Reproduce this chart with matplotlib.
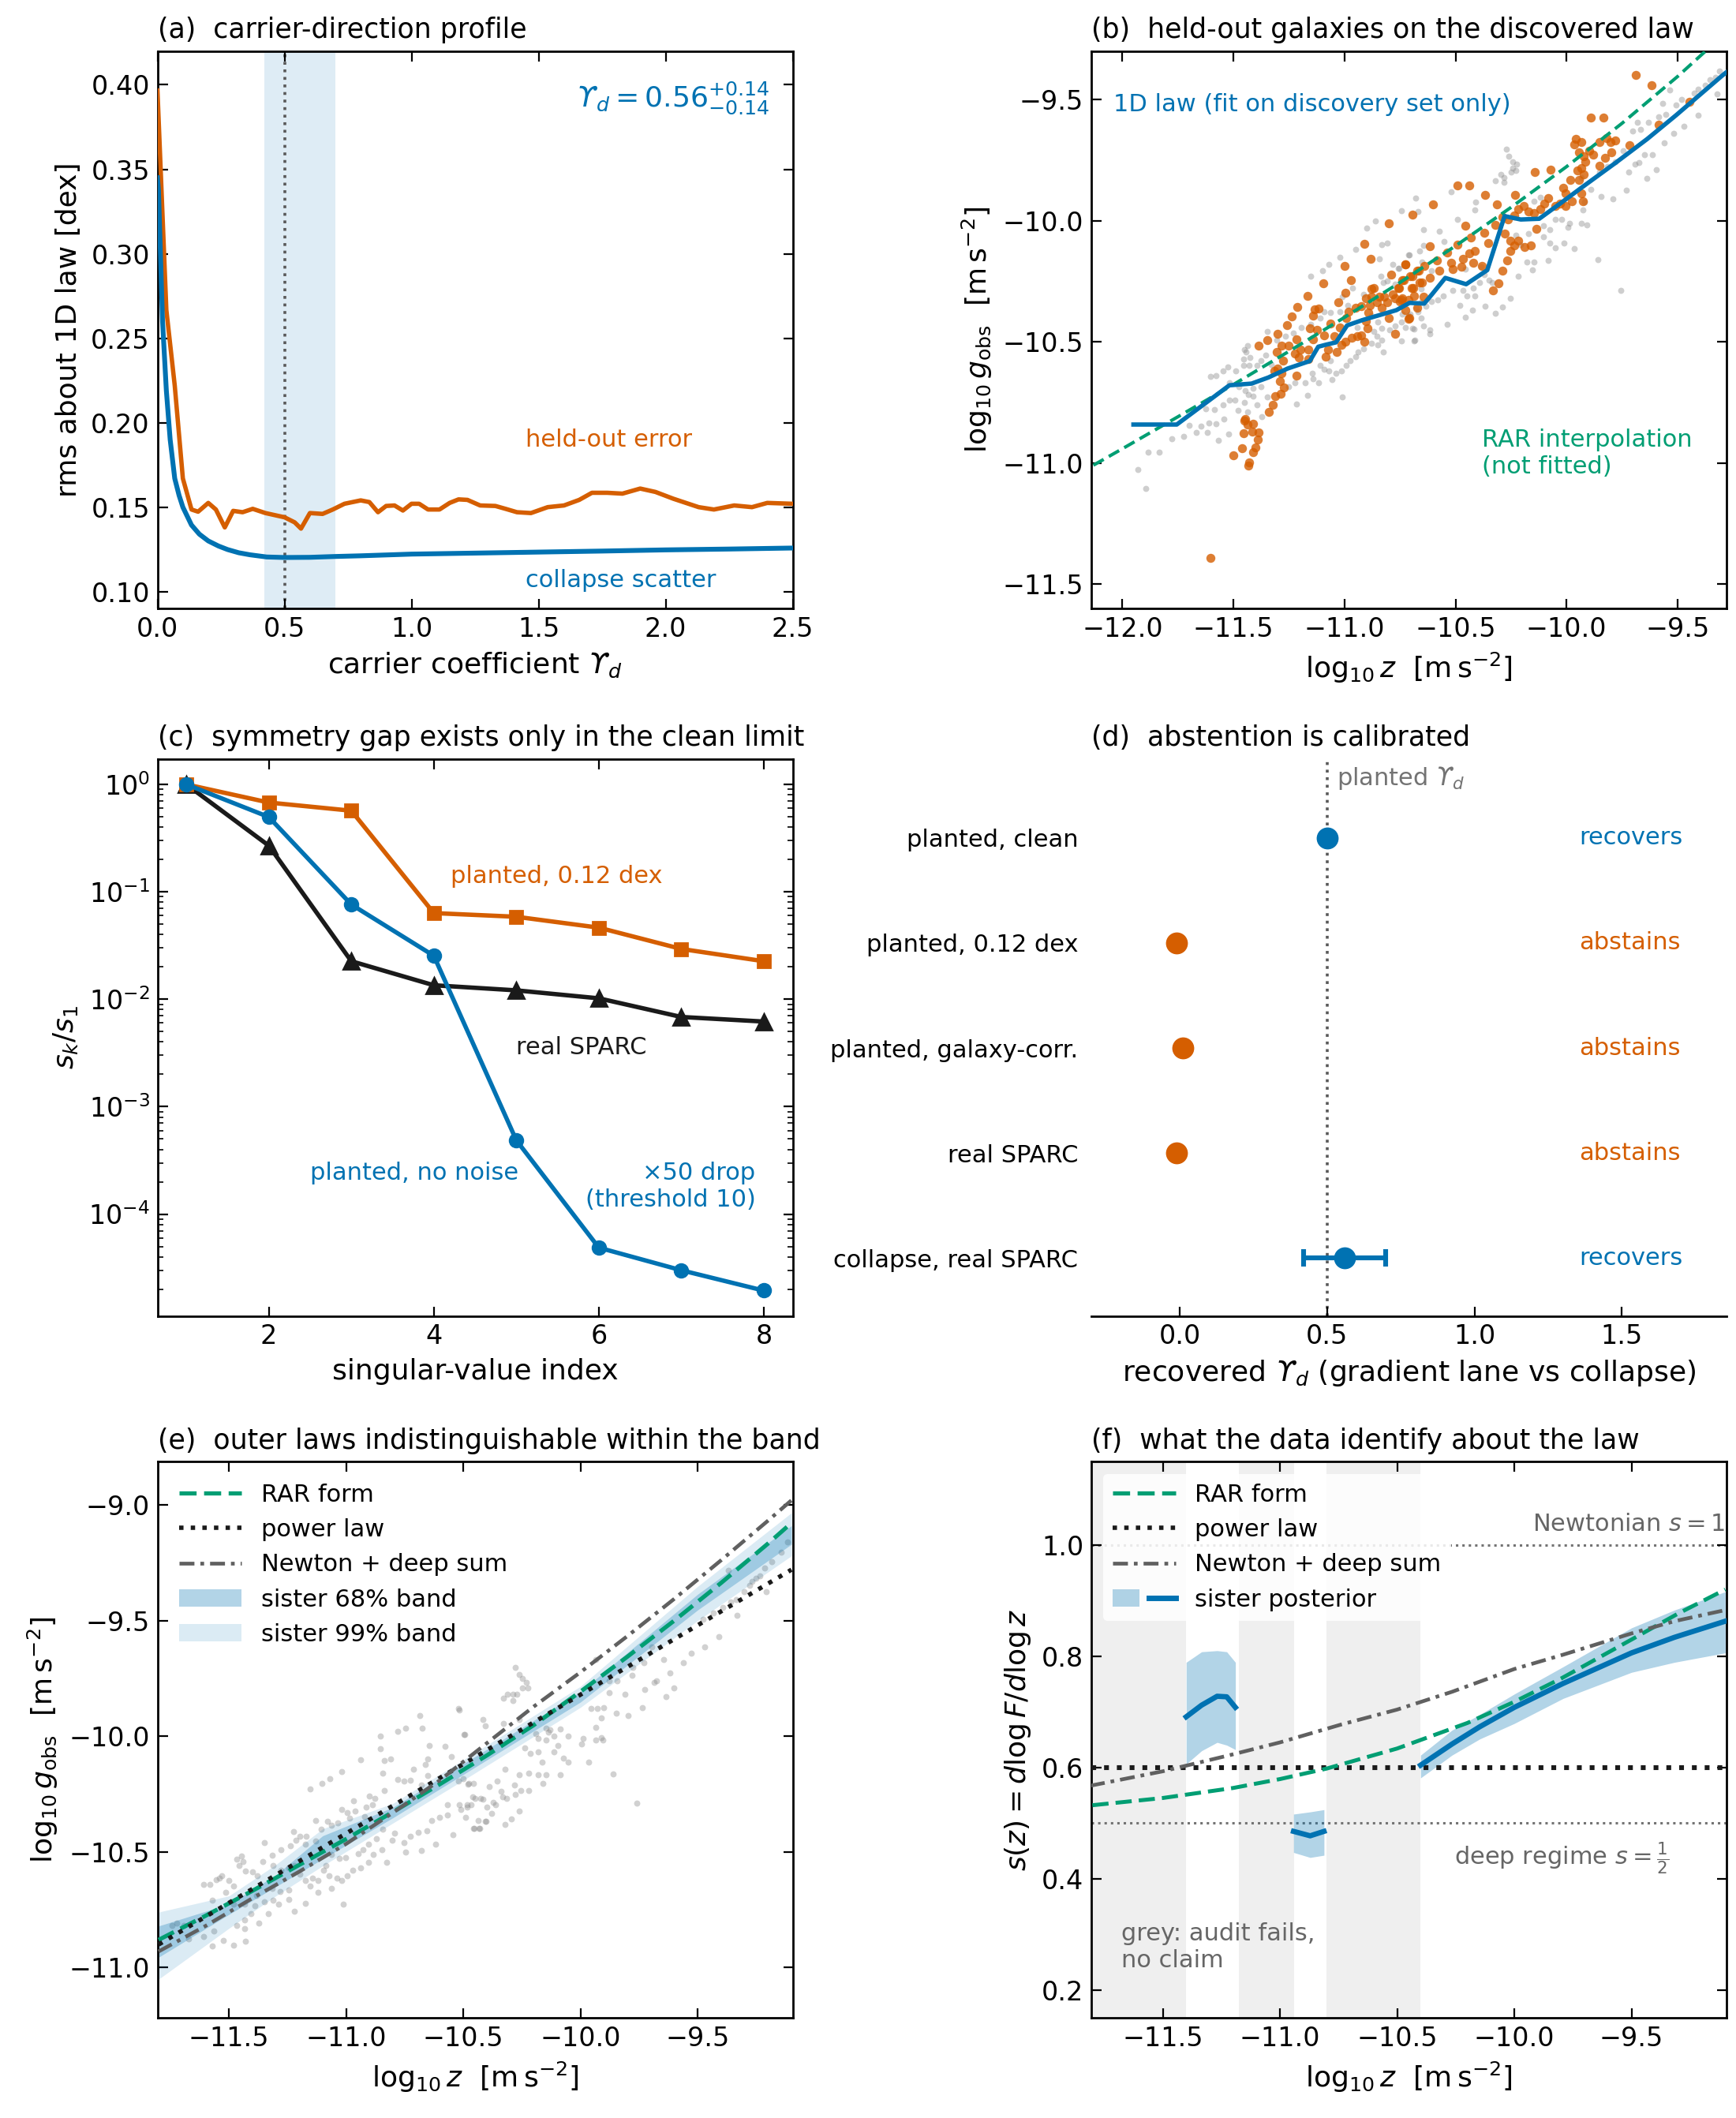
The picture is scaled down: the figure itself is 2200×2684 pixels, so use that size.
import numpy as np
import matplotlib
matplotlib.use('Agg')
import matplotlib.pyplot as plt
from matplotlib.patches import Patch
from matplotlib.lines import Line2D
from matplotlib.legend_handler import HandlerTuple

BLUE = '#0072B2'; ORANGE = '#D55E00'; GREEN = '#009E73'; DGREY = '#606060'
DASH = (0, (4.1, 1.8))
DASHDOT = (0, (4.0, 1.6, 1.0, 1.6))

# ---------------- (a) carrier-direction profile ----------------
collapse_x = [0.0, 0.004, 0.02, 0.035, 0.05, 0.068, 0.085, 0.10, 0.134, 0.165, 0.2, 0.24, 0.276, 0.32,
              0.364, 0.43, 0.5, 0.6, 0.7, 0.8, 1.0, 1.25, 1.5, 1.75, 2.0, 2.25, 2.5]
collapse_y = [0.345, 0.3375, 0.26, 0.219, 0.19, 0.167, 0.157, 0.150, 0.1394, 0.134, 0.130, 0.127, 0.1249,
              0.123, 0.1218, 0.1205, 0.1202, 0.1203, 0.1208, 0.1212, 0.1222, 0.1228, 0.1234, 0.124, 0.1247,
              0.1252, 0.1258]
held_x = [0.0, 0.035, 0.068, 0.10, 0.134, 0.16, 0.2, 0.23, 0.265, 0.298, 0.335, 0.375, 0.425, 0.5, 0.54,
          0.565, 0.6, 0.65, 0.69, 0.736, 0.80, 0.834, 0.868, 0.9, 0.933, 0.966, 1.0, 1.03, 1.065, 1.11,
          1.15, 1.185, 1.22, 1.27, 1.33, 1.37, 1.415, 1.47, 1.536, 1.60, 1.66, 1.71, 1.77, 1.83, 1.90,
          1.96, 2.03, 2.07, 2.13, 2.19, 2.27, 2.34, 2.40, 2.5]
held_y = [0.3966, 0.2667, 0.222, 0.167, 0.1486, 0.1473, 0.1525, 0.1486, 0.138, 0.1478, 0.147, 0.149,
          0.1465, 0.144, 0.141, 0.1373, 0.1465, 0.146, 0.1486, 0.152, 0.154, 0.153, 0.147, 0.1507, 0.151,
          0.148, 0.152, 0.152, 0.1486, 0.1486, 0.1525, 0.1546, 0.1543, 0.151, 0.1507, 0.149, 0.147,
          0.1465, 0.150, 0.151, 0.1543, 0.1585, 0.1585, 0.158, 0.161, 0.159, 0.155, 0.153, 0.150, 0.1486,
          0.151, 0.150, 0.1525, 0.152]
band_a = (0.42, 0.70)
planted_ud = 0.5

# ---------------- (b) held-out galaxies ----------------
law_x = [-11.95, -11.755, -11.518, -11.418, -11.343, -11.256, -11.156, -11.118, -11.081, -11.038, -10.988,
         -10.919, -10.844, -10.766, -10.707, -10.641, -10.606, -10.546, -10.452, -10.357, -10.279, -10.206,
         -10.123, -10.03, -9.933, -9.779, -9.637, -9.507, -9.30, -9.27]
law_y = [-10.841, -10.841, -10.679, -10.672, -10.647, -10.610, -10.579, -10.520, -10.511, -10.502, -10.432,
         -10.410, -10.390, -10.369, -10.339, -10.342, -10.304, -10.236, -10.262, -10.204, -9.981, -9.995,
         -9.992, -9.93, -9.864, -9.761, -9.663, -9.565, -9.402, -9.38]
rar_x = [-12.2, -12.0, -11.75, -11.5, -11.25, -11.0, -10.75, -10.5, -10.25, -10.0, -9.75, -9.5, -9.25]
rar_y = [-11.045, -10.941, -10.809, -10.676, -10.539, -10.399, -10.255, -10.104, -9.945, -9.777, -9.598,
         -9.405, -9.197]

heldout_pts = [
    (-11.605, -11.392), (-11.499, -10.967), (-11.460, -10.938), (-11.432, -11.011), (-11.430, -10.998),
    (-11.410, -10.954), (-11.400, -10.935), (-11.391, -10.904), (-11.388, -10.873), (-11.416, -10.869),
    (-11.454, -10.877), (-11.450, -10.826), (-11.436, -10.842), (-11.412, -10.837), (-11.448, -10.817),
    (-11.341, -10.788), (-11.322, -10.759), (-11.311, -10.723), (-11.288, -10.715), (-11.274, -10.687),
    (-11.291, -10.661), (-11.282, -10.630), (-11.300, -10.609), (-11.317, -10.619), (-11.276, -10.576),
    (-11.305, -10.543), (-11.282, -10.516), (-11.252, -10.516), (-11.217, -10.489), (-11.223, -10.549),
    (-11.199, -10.532), (-11.163, -10.532), (-11.205, -10.565), (-11.163, -10.570), (-11.217, -10.639),
    (-11.386, -10.514), (-11.347, -10.492), (-11.303, -10.465), (-11.258, -10.432), (-11.237, -10.394),
    (-11.213, -10.356), (-11.166, -10.310), (-11.095, -10.257), (-11.001, -10.188), (-10.970, -10.244),
    (-10.994, -10.297), (-11.029, -10.337), (-10.911, -10.094), (-10.881, -10.157),
    (-11.140, -10.391), (-11.134, -10.367), (-11.116, -10.361), (-11.157, -10.445), (-11.122, -10.451),
    (-11.140, -10.489), (-11.092, -10.473), (-11.063, -10.424), (-11.045, -10.478), (-11.021, -10.440),
    (-10.991, -10.402), (-10.980, -10.375), (-10.950, -10.358), (-10.926, -10.353), (-10.997, -10.500),
    (-10.968, -10.483), (-10.944, -10.478), (-10.926, -10.473), (-10.909, -10.500), (-10.897, -10.445),
    (-10.903, -10.413), (-10.891, -10.380), (-10.885, -10.348), (-10.879, -10.315), (-10.867, -10.277),
    (-10.855, -10.337), (-10.832, -10.358), (-10.820, -10.315), (-10.802, -10.402), (-10.772, -10.467),
    (-10.784, -10.304), (-10.755, -10.277), (-10.790, -10.223), (-10.725, -10.179), (-10.731, -10.244),
    (-10.695, -10.228), (-10.689, -10.277), (-10.666, -10.206), (-10.660, -10.255), (-10.713, -10.326),
    (-10.707, -10.402), (-11.074, -10.532), (-11.086, -10.560), (-11.033, -10.543), (-11.015, -10.511),
    (-10.903, -10.320), (-10.879, -10.282), (-10.843, -10.315), (-10.808, -10.337), (-10.772, -10.320),
    (-10.743, -10.326),
    (-9.687, -9.400), (-9.616, -9.442), (-9.890, -9.575), (-9.835, -9.574), (-9.957, -9.663), (-9.933, -9.674),
    (-9.967, -9.685), (-9.945, -9.717), (-9.922, -9.734), (-9.898, -9.712), (-9.880, -9.728), (-9.916, -9.756),
    (-9.933, -9.783), (-9.951, -9.794), (-9.922, -9.810), (-9.945, -9.832), (-9.983, -9.832), (-10.016, -9.864),
    (-10.005, -9.886), (-9.975, -9.919), (-9.933, -9.886), (-9.928, -9.919), (-9.851, -9.674), (-9.821, -9.658),
    (-9.803, -9.674), (-9.780, -9.669), (-9.827, -9.739), (-9.851, -9.772), (-9.797, -9.717), (-9.718, -9.690),
    (-9.584, -9.603), (-9.448, -9.511),
    (-10.144, -9.799), (-10.072, -9.790), (-10.232, -9.895), (-10.315, -9.932), (-10.368, -9.895),
    (-10.437, -9.853), (-10.490, -9.853), (-10.603, -9.932), (-10.695, -9.975), (-10.457, -10.022),
    (-10.431, -10.071), (-10.490, -10.098), (-10.615, -10.106), (-10.538, -10.131), (-10.585, -10.163),
    (-10.639, -10.185), (-10.674, -10.207), (-10.727, -10.179), (-10.704, -10.228), (-10.739, -10.245),
    (-10.757, -10.277), (-10.739, -10.321), (-10.698, -10.277), (-10.650, -10.256), (-10.615, -10.234),
    (-10.573, -10.207), (-10.520, -10.174), (-10.514, -10.201), (-10.467, -10.158), (-10.473, -10.190),
    (-10.437, -10.136), (-10.413, -10.125), (-10.419, -10.174), (-10.381, -10.185), (-10.372, -10.049),
    (-10.354, -10.093), (-10.322, -10.016), (-10.289, -9.984), (-10.265, -9.995), (-10.236, -9.978),
    (-10.218, -9.951), (-10.194, -9.940), (-10.170, -9.962), (-10.147, -9.967), (-10.117, -9.951),
    (-10.099, -9.929), (-10.082, -9.908), (-10.052, -9.940), (-10.028, -9.929), (-10.005, -9.940),
    (-10.277, -10.054), (-10.253, -10.082), (-10.236, -10.103), (-10.218, -10.082), (-10.253, -10.125),
    (-10.268, -10.163), (-10.289, -10.207), (-10.307, -10.258), (-10.330, -10.288), (-10.188, -10.109),
    (-10.159, -10.101), (-10.135, -10.033), (-10.645, -10.315), (-10.674, -10.359), (-10.710, -10.406),
    (-10.751, -10.332), (-10.727, -10.370), (-10.686, -10.310), (-10.80, -10.01),
]

discovery_pts = [
    (-11.931, -11.025), (-11.896, -11.106), (-11.885, -10.956), (-11.833, -10.956), (-11.777, -10.900),
    (-11.723, -10.889), (-11.700, -10.845), (-11.667, -10.875), (-11.646, -10.848), (-11.618, -10.875),
    (-11.611, -10.835), (-11.578, -10.837), (-11.566, -10.905), (-11.521, -10.880), (-11.543, -10.817),
    (-11.586, -10.779), (-11.625, -10.777), (-11.548, -10.761), (-11.519, -10.739), (-11.493, -10.739),
    (-11.480, -10.782), (-11.436, -10.788), (-11.450, -10.750), (-11.433, -10.717), (-11.412, -10.723),
    (-11.394, -10.761), (-11.373, -10.810), (-11.347, -10.726), (-11.377, -10.685), (-11.412, -10.690),
    (-11.448, -10.701), (-11.477, -10.685), (-11.519, -10.668), (-11.604, -10.641), (-11.578, -10.639),
    (-11.548, -10.619), (-11.525, -10.603), (-11.489, -10.619), (-11.454, -10.598), (-11.454, -10.570),
    (-11.430, -10.598), (-11.394, -10.598), (-11.450, -10.532), (-11.436, -10.516), (-11.442, -10.543),
    (-11.424, -10.565), (-11.377, -10.576), (-11.353, -10.554), (-11.329, -10.592), (-11.347, -10.456),
    (-11.306, -10.494), (-11.264, -10.478), (-11.229, -10.462), (-11.193, -10.440), (-11.151, -10.429),
    (-11.223, -10.668), (-11.252, -10.685), (-11.217, -10.755), (-11.166, -10.720), (-11.178, -10.668),
    (-11.140, -10.652), (-11.116, -10.668), (-11.146, -10.630), (-11.092, -10.614), (-11.110, -10.598),
    (-11.063, -10.576), (-11.069, -10.619), (-11.057, -10.657), (-11.039, -10.630), (-11.015, -10.619),
    (-10.991, -10.598), (-10.974, -10.576), (-10.950, -10.560), (-10.938, -10.543), (-10.915, -10.527),
    (-10.879, -10.505), (-10.849, -10.511), (-10.826, -10.543), (-10.832, -10.494), (-10.855, -10.478),
    (-10.867, -10.456), (-10.832, -10.445), (-10.796, -10.451), (-10.772, -10.435), (-10.743, -10.418),
    (-10.713, -10.391), (-10.695, -10.445), (-10.683, -10.494), (-10.654, -10.402), (-10.677, -10.358),
    (-10.654, -10.337), (-10.654, -10.282), (-11.009, -10.726), (-11.151, -10.228), (-11.098, -10.206),
    (-11.069, -10.179), (-11.021, -10.150), (-10.950, -10.119), (-10.832, -10.100), (-10.806, -10.092),
    (-10.843, -10.157), (-10.784, -10.179), (-10.755, -10.195), (-10.707, -10.141), (-10.837, -10.228),
    (-10.826, -10.255), (-10.915, -10.304), (-10.962, -10.277), (-11.021, -10.375), (-11.092, -10.375),
    (-11.110, -10.402), (-11.063, -10.380), (-11.009, -10.315), (-10.986, -10.348), (-10.879, -10.391),
    (-10.849, -10.418), (-10.944, -10.440), (-10.808, -10.250), (-10.772, -10.261),
    (-9.311, -9.381), (-9.329, -9.408), (-9.353, -9.419), (-9.377, -9.440), (-9.406, -9.457), (-9.424, -9.473),
    (-9.483, -9.500), (-9.507, -9.522), (-9.537, -9.462), (-9.566, -9.516), (-9.584, -9.571), (-9.554, -9.560),
    (-9.631, -9.593), (-9.667, -9.623), (-9.702, -9.631), (-9.682, -9.593), (-9.471, -9.609), (-9.519, -9.641),
    (-9.560, -9.679), (-9.614, -9.726), (-9.406, -9.565), (-9.323, -9.478), (-9.596, -9.788), (-9.637, -9.826),
    (-9.673, -9.761), (-9.720, -9.799), (-9.732, -9.873), (-9.791, -9.910), (-9.845, -9.899), (-9.892, -9.870),
    (-9.928, -9.957), (-9.910, -10.016), (-9.933, -10.011), (-9.967, -10.114), (-9.987, -10.011),
    (-10.011, -10.093), (-10.052, -10.112), (-10.082, -10.163), (-10.076, -10.093), (-10.105, -10.065),
    (-10.147, -10.169), (-10.179, -10.169), (-10.153, -10.204), (-10.218, -10.228), (-10.253, -10.321),
    (-10.289, -10.356), (-10.319, -10.381), (-9.756, -10.286), (-9.857, -10.161), (-10.271, -9.704),
    (-10.259, -9.734), (-10.242, -9.756), (-10.224, -9.766), (-10.230, -9.794), (-10.248, -9.799),
    (-10.242, -9.783), (-10.280, -9.821), (-10.295, -9.810), (-10.322, -9.834), (-10.283, -9.840),
    (-10.408, -9.924), (-10.413, -9.957), (-10.520, -9.881), (-10.680, -9.908), (-10.745, -9.960),
    (-10.668, -9.962), (-10.490, -9.995), (-10.573, -10.044), (-10.645, -10.038), (-10.550, -10.087),
    (-10.645, -10.103), (-10.710, -10.141), (-10.662, -10.125), (-10.757, -10.196), (-10.650, -10.169),
    (-10.609, -10.207), (-10.455, -10.201), (-10.386, -10.190), (-10.372, -10.223), (-10.348, -10.245),
    (-10.336, -10.256), (-10.390, -10.256), (-10.419, -10.277), (-10.467, -10.288), (-10.514, -10.288),
    (-10.556, -10.310), (-10.579, -10.326), (-10.609, -10.332), (-10.633, -10.353), (-10.668, -10.375),
    (-10.704, -10.386), (-10.739, -10.386), (-10.727, -10.440), (-10.686, -10.446), (-10.645, -10.435),
    (-10.615, -10.451), (-10.615, -10.468), (-10.745, -10.495), (-10.686, -10.495), (-10.538, -10.429),
    (-10.455, -10.397), (-10.425, -10.370), (-10.366, -10.353), (-10.413, -10.310), (-10.479, -10.348),
    (-10.449, -10.310), (-10.230, -10.060), (-10.206, -10.098), (-10.171, -10.054), (-10.105, -10.022),
    (-10.076, -10.038), (-10.052, -9.995), (-10.022, -9.995), (-9.993, -10.027), (-9.919, -9.924),
    (-10.117, -9.902), (-10.147, -9.919), (-9.933, -9.821), (-9.851, -9.799), (-9.815, -9.777),
    (-9.780, -9.756), (-9.744, -9.712), (-9.691, -9.766), (-9.649, -9.728), (-10.86, -10.0), (-10.90, -10.03),
]

# ---------------- (c) singular values ----------------
sv_index = [1, 2, 3, 4, 5, 6, 7, 8]
sv_planted_noisy = [1.0, 0.678, 0.569, 0.0634, 0.0586, 0.0464, 0.0294, 0.0226]
sv_planted_clean = [1.0, 0.497, 0.0762, 0.0254, 4.87e-4, 4.87e-5, 3.0e-5, 1.94e-5]
sv_real_sparc = [1.0, 0.269, 0.0226, 0.0135, 0.0121, 0.0102, 0.00684, 0.0062]

# ---------------- (d) abstention ----------------
abst_labels = ['planted, clean', 'planted, 0.12 dex', 'planted, galaxy-corr.', 'real SPARC',
               'collapse, real SPARC']
abst_values = [0.50, -0.01, 0.01, -0.01, 0.56]
abst_err_lo = [0.0, 0.0, 0.0, 0.0, 0.14]
abst_err_hi = [0.0, 0.0, 0.0, 0.0, 0.14]
abst_verdict = ['recovers', 'abstains', 'abstains', 'abstains', 'recovers']

# ---------------- (e) outer laws ----------------
rarform_x = [-11.8, -11.6, -11.4, -11.2, -11.0, -10.8, -10.6, -10.4, -10.2, -10.0, -9.8, -9.6, -9.4, -9.2, -9.1]
rarform_y = [-10.88, -10.776, -10.668, -10.556, -10.444, -10.327, -10.207, -10.083, -9.952, -9.807, -9.656,
             -9.50, -9.337, -9.167, -9.078]
power_x = [-11.8, -9.1]
power_y = [-10.90, -9.28]
newton_x = [-11.8, -11.6, -11.4, -11.2, -11.0, -10.8, -10.6, -10.4, -10.2, -10.0, -9.8, -9.6, -9.4, -9.2, -9.1]
newton_y = [-10.93, -10.82, -10.70, -10.585, -10.465, -10.33, -10.19, -10.03, -9.872, -9.723, -9.567, -9.406,
            -9.239, -9.068, -8.98]
sister_x = [-11.8, -11.5, -11.3, -11.1, -10.8, -10.5, -10.0, -9.5, -9.1]
sister_lo99 = [-11.05, -10.83, -10.69, -10.56, -10.375, -10.19, -9.875, -9.50, -9.22]
sister_lo68 = [-10.955, -10.77, -10.65, -10.53, -10.352, -10.165, -9.852, -9.454, -9.17]
sister_hi68 = [-10.82, -10.725, -10.60, -10.43, -10.307, -10.119, -9.807, -9.386, -9.09]
sister_hi99 = [-10.76, -10.69, -10.555, -10.40, -10.29, -10.102, -9.784, -9.352, -9.034]

all_pts = [
    (-10.522, -9.881), (-10.686, -9.909), (-10.748, -9.964), (-10.781, -9.980), (-10.674, -9.964),
    (-10.855, -10.000), (-10.494, -9.994), (-10.855, -10.054), (-10.646, -10.041), (-10.579, -10.045),
    (-10.939, -10.100), (-10.838, -10.105), (-10.809, -10.098), (-10.652, -10.097), (-10.551, -10.089),
    (-10.663, -10.123), (-10.714, -10.142), (-10.843, -10.161), (-11.018, -10.151), (-11.068, -10.182),
    (-11.102, -10.205), (-11.153, -10.227), (-10.781, -10.187), (-10.753, -10.195), (-10.725, -10.191),
    (-10.652, -10.168), (-10.522, -10.193), (-10.500, -10.184), (-10.477, -10.205), (-10.680, -10.210),
    (-10.838, -10.233), (-10.900, -10.259), (-10.877, -10.267), (-10.967, -10.278), (-10.888, -10.295),
    (-10.916, -10.305), (-11.018, -10.316), (-10.995, -10.330), (-10.961, -10.324), (-10.922, -10.347),
    (-10.984, -10.355), (-11.130, -10.364), (-11.080, -10.369), (-11.035, -10.373), (-11.063, -10.386),
    (-11.108, -10.403), (-11.226, -10.411), (-11.198, -10.432), (-11.170, -10.432), (-11.215, -10.449),
    (-11.130, -10.452), (-11.175, -10.466), (-11.237, -10.472), (-11.277, -10.489), (-11.316, -10.514),
    (-11.350, -10.460), (-11.446, -10.517), (-11.440, -10.540), (-11.457, -10.557), (-11.468, -10.532),
    (-11.429, -10.582), (-11.401, -10.585), (-11.378, -10.602), (-11.356, -10.540), (-11.311, -10.557),
    (-11.277, -10.580), (-11.243, -10.568), (-11.221, -10.557), (-11.198, -10.597), (-11.175, -10.625),
    (-11.142, -10.614), (-11.119, -10.625), (-11.097, -10.580), (-11.074, -10.602), (-11.040, -10.614),
    (-11.018, -10.625), (-10.995, -10.602), (-10.973, -10.580), (-10.939, -10.568), (-10.905, -10.545),
    (-10.883, -10.511), (-10.849, -10.489), (-10.826, -10.545), (-10.804, -10.449), (-10.793, -10.420),
    (-10.753, -10.460), (-10.748, -10.500), (-10.725, -10.432), (-10.691, -10.415), (-10.680, -10.494),
    (-10.657, -10.409), (-10.635, -10.364), (-10.618, -10.466), (-10.601, -10.352), (-10.567, -10.341),
    (-10.545, -10.426), (-10.511, -10.318), (-10.489, -10.352), (-10.455, -10.398), (-10.432, -10.398),
    (-10.404, -10.369), (-10.460, -10.261), (-10.427, -10.267), (-10.399, -10.307), (-10.567, -10.295),
    (-10.483, -10.295), (-10.843, -10.403), (-10.871, -10.443), (-10.905, -10.466), (-10.928, -10.489),
    (-10.950, -10.506), (-11.001, -10.523), (-11.029, -10.528), (-11.063, -10.511), (-11.085, -10.557),
    (-11.175, -10.722), (-11.221, -10.756), (-11.012, -10.727), (-11.153, -10.648), (-11.119, -10.676),
    (-11.063, -10.659), (-11.530, -10.602), (-11.541, -10.614), (-11.553, -10.619), (-11.609, -10.642),
    (-11.581, -10.642), (-11.502, -10.625), (-11.479, -10.648), (-11.570, -10.710), (-11.513, -10.676),
    (-11.434, -10.727), (-11.389, -10.733), (-11.406, -10.767), (-11.434, -10.795), (-11.372, -10.807),
    (-11.434, -10.830), (-11.468, -10.818), (-11.564, -10.841), (-11.609, -10.864), (-11.671, -10.875),
    (-11.693, -10.818), (-11.722, -10.807), (-11.744, -10.818), (-11.570, -10.907), (-11.525, -10.884),
    (-11.479, -10.903), (-11.429, -10.886), (-11.479, -10.727), (-11.333, -10.767), (-11.288, -10.727),
    (-11.311, -10.710), (-11.243, -10.705), (-11.282, -10.670), (-11.243, -10.665), (-11.316, -10.659),
    (-11.350, -10.716), (-11.384, -10.688),
    (-10.277, -9.704), (-10.262, -9.733), (-10.249, -9.750), (-10.232, -9.767), (-10.224, -9.790),
    (-10.249, -9.790), (-10.311, -9.818), (-10.288, -9.818), (-10.271, -9.818), (-10.328, -9.835),
    (-10.288, -9.846), (-10.418, -9.926), (-10.406, -9.954), (-10.328, -9.943), (-10.260, -9.926),
    (-10.496, -9.994), (-10.519, -9.886), (-10.147, -9.966), (-10.136, -9.983), (-10.131, -9.971),
    (-10.192, -9.988), (-10.181, -10.011), (-10.147, -10.017), (-10.114, -10.000), (-10.085, -9.968),
    (-10.052, -10.000), (-9.995, -10.032), (-9.990, -10.011), (-9.934, -10.017), (-9.911, -10.005),
    (-9.905, -10.017), (-9.934, -9.960), (-9.911, -9.922), (-9.956, -9.880), (-9.928, -9.880),
    (-9.900, -9.875), (-9.877, -9.812), (-9.849, -9.900), (-9.810, -9.818), (-9.798, -9.911),
    (-9.781, -9.738), (-9.736, -9.875), (-9.725, -9.797), (-9.686, -9.767), (-9.675, -9.761),
    (-9.635, -9.829), (-9.601, -9.790), (-9.618, -9.727), (-9.646, -9.670), (-9.562, -9.682),
    (-9.528, -9.642), (-9.472, -9.613), (-9.410, -9.568), (-9.331, -9.477), (-9.370, -9.284),
    (-9.280, -9.346), (-9.252, -9.318), (-9.235, -9.307), (-9.213, -9.272), (-9.185, -9.244),
    (-9.145, -9.204), (-9.117, -9.159), (-9.207, -9.375), (-9.269, -9.329), (-9.303, -9.375),
    (-9.337, -9.409), (-9.359, -9.420), (-9.393, -9.443), (-9.432, -9.466), (-9.477, -9.494),
    (-9.934, -9.670), (-9.877, -9.761), (-9.843, -9.761), (-9.776, -9.704), (-9.731, -9.682),
    (-9.697, -9.613), (-10.238, -10.051), (-10.215, -10.074), (-10.181, -10.068), (-10.164, -10.113),
    (-10.114, -10.068), (-10.097, -10.040), (-10.074, -10.096), (-10.052, -10.113), (-9.967, -10.113),
    (-10.085, -10.165), (-10.147, -10.165), (-10.181, -10.165), (-10.221, -10.159), (-10.260, -10.165),
    (-10.322, -10.142), (-10.356, -10.193), (-10.390, -10.216), (-10.457, -10.204), (-10.480, -10.207),
    (-10.283, -10.210), (-10.339, -10.238), (-10.333, -10.261), (-10.316, -10.267), (-10.277, -10.250),
    (-10.254, -10.233), (-10.221, -10.233), (-10.373, -10.284), (-10.361, -10.295), (-10.418, -10.273),
    (-10.451, -10.267), (-10.468, -10.295), (-10.485, -10.307), (-10.519, -10.295), (-10.378, -10.335),
    (-10.435, -10.363), (-10.406, -10.369), (-10.260, -10.324), (-10.294, -10.358), (-10.322, -10.380),
    (-10.457, -10.398), (-10.429, -10.398), (-9.860, -10.162), (-9.759, -10.290), (-10.159, -10.204),
]

# ---------------- (f) local slope ----------------
audit_fail = [(-11.85, -11.40), (-11.175, -10.94), (-10.80, -10.40)]
slope_rar_x = [-11.8, -11.5, -11.2, -11.0, -10.8, -10.5, -10.2, -10.0, -9.8, -9.5, -9.3, -9.1]
slope_rar_y = [0.532, 0.545, 0.563, 0.579, 0.598, 0.634, 0.680, 0.718, 0.760, 0.830, 0.877, 0.920]
slope_power = 0.6
slope_newton_x = [-11.81, -11.5, -11.215, -11.0, -10.74, -10.5, -10.266, -10.0, -9.79, -9.5, -9.317, -9.10]
slope_newton_y = [0.567, 0.593, 0.622, 0.645, 0.677, 0.704, 0.736, 0.777, 0.803, 0.841, 0.863, 0.883]
seg1_x = [-11.40, -11.334, -11.268, -11.227, -11.19]
seg1_mid = [0.691, 0.712, 0.728, 0.727, 0.708]
seg1_lo = [0.606, 0.630, 0.645, 0.640, 0.632]
seg1_hi = [0.789, 0.808, 0.810, 0.808, 0.789]
seg2_x = [-10.942, -10.871, -10.812]
seg2_mid = [0.485, 0.477, 0.485]
seg2_lo = [0.447, 0.438, 0.442]
seg2_hi = [0.516, 0.520, 0.524]
seg3_x = [-10.40, -10.266, -10.148, -10.0, -9.792, -9.5, -9.317, -9.10]
seg3_mid = [0.604, 0.642, 0.673, 0.708, 0.751, 0.806, 0.834, 0.863]
seg3_lo = [0.581, 0.622, 0.651, 0.679, 0.724, 0.771, 0.789, 0.806]
seg3_hi = [0.622, 0.667, 0.695, 0.732, 0.781, 0.851, 0.883, 0.916]

# ================= figure =================
plt.rcParams.update({
    'font.family': ['DejaVu Sans'], 'mathtext.fontset': 'dejavusans',
    'font.size': 12, 'axes.titlesize': 12.5, 'axes.labelsize': 13,
    'xtick.labelsize': 12, 'ytick.labelsize': 12, 'legend.fontsize': 11,
    'xtick.direction': 'in', 'ytick.direction': 'in', 'xtick.top': True, 'ytick.right': True,
    'xtick.major.size': 4.5, 'ytick.major.size': 4.5, 'xtick.minor.size': 2.5, 'ytick.minor.size': 2.5,
    'axes.linewidth': 1.0,
})
UPS = '\u03d2'

fig = plt.figure(figsize=(11, 13.42), dpi=200)
LX, RX, W = 0.0907, 0.6286, 0.3659
rows = [(0.7127, 0.2632), (0.3787, 0.2629), (0.0474, 0.2625)]
axA = fig.add_axes([LX, rows[0][0], W, rows[0][1]])
axB = fig.add_axes([RX, rows[0][0], W, rows[0][1]])
axC = fig.add_axes([LX, rows[1][0], W, rows[1][1]])
axD = fig.add_axes([RX, rows[1][0], W, rows[1][1]])
axE = fig.add_axes([LX, rows[2][0], W, rows[2][1]])
axF = fig.add_axes([RX, rows[2][0], W, rows[2][1]])

# (a)
axA.axvspan(*band_a, color=BLUE, alpha=0.13, lw=0, zorder=0)
axA.axvline(planted_ud, color='0.35', ls=':', lw=1.3, zorder=1)
axA.plot(held_x, held_y, color=ORANGE, lw=2.0, zorder=3)
axA.plot(collapse_x, collapse_y, color=BLUE, lw=2.2, zorder=3)
axA.set_xlim(0, 2.5); axA.set_ylim(0.09, 0.42)
axA.set_xticks([0, 0.5, 1.0, 1.5, 2.0, 2.5])
axA.text(1.45, 0.19, 'held-out error', color=ORANGE, fontsize=11, va='center')
axA.text(1.45, 0.1066, 'collapse scatter', color=BLUE, fontsize=11, va='center')
axA.text(2.41, 0.392, r'$%s_d = 0.56^{+0.14}_{-0.14}$' % UPS, color=BLUE, fontsize=13,
         ha='right', va='center')
axA.set_xlabel(r'carrier coefficient $%s_d$' % UPS)
axA.set_ylabel('rms about 1D law [dex]')
axA.set_title('(a)  carrier-direction profile', loc='left')

# (b)
dx, dy = zip(*discovery_pts)
hx, hy = zip(*heldout_pts)
axB.scatter(dx, dy, s=8, color='0.55', alpha=0.42, lw=0, zorder=1)
axB.scatter(hx, hy, s=17, color=ORANGE, alpha=0.8, lw=0, zorder=2)
axB.plot(rar_x, rar_y, color=GREEN, ls=(0, (3.6, 1.8)), lw=1.5, zorder=3)
axB.plot(law_x, law_y, color=BLUE, lw=2.0, zorder=4)
axB.set_xlim(-12.14, -9.28); axB.set_ylim(-11.6, -9.3)
axB.set_xticks([-12.0, -11.5, -11.0, -10.5, -10.0, -9.5])
axB.set_yticks([-11.5, -11.0, -10.5, -10.0, -9.5])
axB.text(-12.04, -9.52, '1D law (fit on discovery set only)', color=BLUE, fontsize=11, va='center')
axB.text(-10.38, -10.96, 'RAR interpolation\n(not fitted)', color=GREEN, fontsize=11, va='center')
axB.set_xlabel(r'$\log_{10} z\ \ [\mathrm{m\,s^{-2}}]$')
axB.set_ylabel(r'$\log_{10} g_{\mathrm{obs}}\ \ [\mathrm{m\,s^{-2}}]$')
axB.set_title('(b)  held-out galaxies on the discovered law', loc='left')

# (c)
axC.semilogy(sv_index, sv_real_sparc, color='#1a1a1a', marker='^', ms=7, lw=2.0, zorder=3)
axC.semilogy(sv_index, sv_planted_noisy, color=ORANGE, marker='s', ms=6, lw=2.0, zorder=3)
axC.semilogy(sv_index, sv_planted_clean, color=BLUE, marker='o', ms=6, lw=2.0, zorder=4)
axC.set_xticks([2, 4, 6, 8])
axC.tick_params(which='both', direction='in', top=True, right=True)
axC.text(4.2, 0.14, 'planted, 0.12 dex', color=ORANGE, fontsize=11, va='center')
axC.text(5.0, 0.00357, 'real SPARC', color='#1a1a1a', fontsize=11, va='center')
axC.text(2.5, 2.4e-4, 'planted, no noise', color=BLUE, fontsize=11, va='center')
axC.text(7.9, 1.8e-4, '\u00d750 drop\n(threshold 10)', color=BLUE, fontsize=11, va='center',
         ha='right', multialignment='right')
axC.set_xlabel('singular-value index')
axC.set_ylabel(r'$s_k/s_1$')
axC.set_title('(c)  symmetry gap exists only in the clean limit', loc='left')

# (d)
ypos = np.arange(len(abst_labels))
for i in range(len(abst_labels)):
    col = BLUE if abst_verdict[i] == 'recovers' else ORANGE
    if abst_err_hi[i] > 0:
        axD.errorbar(abst_values[i], ypos[i], xerr=[[abst_err_lo[i]], [abst_err_hi[i]]], fmt='o',
                     color=col, ms=9, elinewidth=2.2, capsize=4, capthick=2.2, zorder=3)
    else:
        axD.plot(abst_values[i], ypos[i], 'o', color=col, ms=9, zorder=3)
    axD.text(1.355, ypos[i], abst_verdict[i], color=col, fontsize=11, va='center', ha='left')
axD.axvline(planted_ud, color='0.35', ls=':', lw=1.3, zorder=1)
axD.text(0.534, -0.573, r'planted $%s_d$' % UPS, color='0.45', fontsize=11, va='center')
axD.set_ylim(4.55, -0.75); axD.set_xlim(-0.3, 1.855)
axD.set_yticks(ypos); axD.set_yticklabels(abst_labels, fontsize=11)
axD.set_xticks([0.0, 0.5, 1.0, 1.5])
for s in ['left', 'top', 'right']:
    axD.spines[s].set_visible(False)
axD.tick_params(axis='y', length=0, pad=6, left=False, right=False)
axD.tick_params(axis='x', top=False, direction='in')
axD.set_xlabel(r'recovered $%s_d$ (gradient lane vs collapse)' % UPS)
axD.set_title('(d)  abstention is calibrated', loc='left')

# (e)
ex, ey = zip(*all_pts)
axE.scatter(ex, ey, s=8, color='0.55', alpha=0.4, lw=0, zorder=1)
axE.fill_between(sister_x, sister_lo99, sister_hi99, color=BLUE, alpha=0.14, lw=0, zorder=2)
axE.fill_between(sister_x, sister_lo68, sister_hi68, color=BLUE, alpha=0.27, lw=0, zorder=2)
axE.plot(rarform_x, rarform_y, color=GREEN, ls=DASH, lw=1.9, zorder=4)
axE.plot(power_x, power_y, color='#1a1a1a', ls=':', lw=2.0, zorder=4)
axE.plot(newton_x, newton_y, color=DGREY, ls=DASHDOT, lw=1.7, zorder=4)
axE.set_xlim(-11.805, -9.095); axE.set_ylim(-11.216, -8.813)
axE.set_xticks([-11.5, -11.0, -10.5, -10.0, -9.5])
axE.set_yticks([-11.0, -10.5, -10.0, -9.5, -9.0])
hE = [Line2D([], [], color=GREEN, ls=DASH, lw=1.9),
      Line2D([], [], color='#1a1a1a', ls=':', lw=2.0),
      Line2D([], [], color=DGREY, ls=DASHDOT, lw=1.7),
      Patch(facecolor=BLUE, alpha=0.3, lw=0),
      Patch(facecolor=BLUE, alpha=0.14, lw=0)]
axE.legend(hE, ['RAR form', 'power law', 'Newton + deep sum', 'sister 68% band', 'sister 99% band'],
           loc='upper left', handlelength=2.6, labelspacing=0.5, frameon=True, facecolor='white',
           edgecolor='none', framealpha=0.85)
axE.set_xlabel(r'$\log_{10} z\ \ [\mathrm{m\,s^{-2}}]$')
axE.set_ylabel(r'$\log_{10} g_{\mathrm{obs}}\ \ [\mathrm{m\,s^{-2}}]$')
axE.set_title('(e)  outer laws indistinguishable within the band', loc='left')

# (f)
for a, b in audit_fail:
    axF.axvspan(a, b, color='#efefef', lw=0, zorder=0)
axF.axhline(1.0, color='0.45', ls=':', lw=1.1, zorder=1)
axF.axhline(0.5, color='0.45', ls=':', lw=1.1, zorder=1)
axF.axhline(slope_power, color='#1a1a1a', ls=':', lw=2.2, zorder=3)
axF.plot(slope_rar_x, slope_rar_y, color=GREEN, ls=DASH, lw=1.8, zorder=3)
axF.plot(slope_newton_x, slope_newton_y, color=DGREY, ls=DASHDOT, lw=1.7, zorder=3)
for sx, lo, hi, mid in [(seg1_x, seg1_lo, seg1_hi, seg1_mid), (seg2_x, seg2_lo, seg2_hi, seg2_mid),
                        (seg3_x, seg3_lo, seg3_hi, seg3_mid)]:
    axF.fill_between(sx, lo, hi, color=BLUE, alpha=0.3, lw=0, zorder=2)
    axF.plot(sx, mid, color=BLUE, lw=2.4, zorder=4)
axF.set_xlim(-11.805, -9.095); axF.set_ylim(0.15, 1.15)
axF.set_xticks([-11.5, -11.0, -10.5, -10.0, -9.5])
axF.set_yticks([0.2, 0.4, 0.6, 0.8, 1.0])
axF.text(-9.1, 1.037, r'Newtonian $s=1$', color='0.4', fontsize=11, ha='right', va='center')
axF.text(-9.34, 0.436, r'deep regime $s=\frac{1}{2}$', color='0.4', fontsize=11, ha='right', va='center')
axF.text(-11.678, 0.277, 'grey: audit fails,\nno claim', color='0.4', fontsize=11, ha='left', va='center')
hF = [Line2D([], [], color=GREEN, ls=DASH, lw=1.9),
      Line2D([], [], color='#1a1a1a', ls=':', lw=2.0),
      Line2D([], [], color=DGREY, ls=DASHDOT, lw=1.7),
      (Patch(facecolor=BLUE, alpha=0.3, lw=0), Line2D([], [], color=BLUE, lw=2.5))]
axF.legend(hF, ['RAR form', 'power law', 'Newton + deep sum', 'sister posterior'], loc='upper left',
           handlelength=2.6, labelspacing=0.5, frameon=True, facecolor='white', edgecolor='none',
           framealpha=0.85, handler_map={tuple: HandlerTuple(ndivide=None)})
axF.set_xlabel(r'$\log_{10} z\ \ [\mathrm{m\,s^{-2}}]$')
axF.set_ylabel(r'$s(z) = d\log F/d\log z$')
axF.set_title('(f)  what the data identify about the law', loc='left')

fig.savefig('out.png', dpi=200)
